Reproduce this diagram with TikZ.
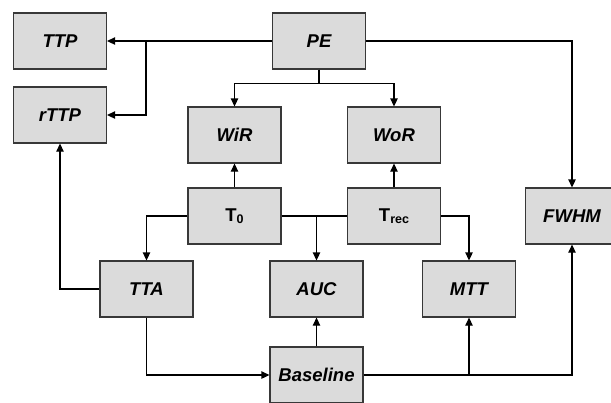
\documentclass[tikz,border=0pt]{standalone}
\usepackage{fontspec}
\newfontfamily\boxfont{Liberation Sans}
\usetikzlibrary{arrows.meta, positioning}

\begin{document}
\begin{tikzpicture}[x=1pt, y=-1pt, line join=miter,
    box/.style={draw=black!78, fill=black!14, line width=1.3pt, minimum width=93pt, minimum height=56pt, inner sep=0pt,
        font=\boxfont\bfseries\itshape\fontsize{18.5}{20}\selectfont},
    tbox/.style={box, font=\boxfont\bfseries\fontsize{18.5}{20}\selectfont},
    arr/.style={line width=1.3pt, -{Triangle[length=8pt, width=7.5pt]}},
    ln/.style={line width=1.3pt}]
    \useasboundingbox (0,0) rectangle (611,402);
    \clip (0,0) rectangle (611,402);

    \node[box] (TTP) at (60,41) {TTP};
    \node[box] (rTTP) at (60,115) {rTTP};
    \node[box] (PE) at (319,41) {PE};
    \node[box] (WiR) at (234.5,135) {WiR};
    \node[box] (WoR) at (394,135) {WoR};
    \node[tbox] (T0) at (234.5,216) {T\raisebox{-1.5pt}{\fontsize{12.5}{12}\selectfont 0}};
    \node[tbox] (Trec) at (394,216) {T\raisebox{-1.5pt}{\fontsize{12.5}{12}\selectfont rec}};
    \node[box] (FWHM) at (572,216) {FWHM};
    \node[box] (TTA) at (146.5,289) {TTA};
    \node[box] (AUC) at (316.5,289) {AUC};
    \node[box] (MTT) at (469,289) {MTT};
    \node[box] (Base) at (316.5,375) {Baseline};

    % PE outputs
    \draw[arr] (PE.west) -- (TTP.east);
    \coordinate (pj) at (146,41);
    \draw[arr] (pj) |- (rTTP.east);
    \draw[arr] (PE.south) -- ++(0,14) -| (WiR.north);
    \draw[arr] (PE.south) -- ++(0,14) -| (WoR.north);
    \draw[arr] (PE.east) -| (FWHM.north);

    % T0 and Trec
    \draw[arr] (T0.north) -- (WiR.south);
    \draw[arr] (Trec.north) -- (WoR.south);
    \draw[arr] (T0.west) -| (TTA.north);
    \draw[ln] (T0.east) -- (Trec.west);
    \draw[arr] (AUC.north |- T0.east) -- (AUC.north);
    \draw[arr] (Trec.east) -| (MTT.north);

    % TTA and Baseline
    \draw[arr] (TTA.west) -| (rTTP.south);
    \draw[arr] (TTA.south) |- (Base.west);
    \draw[arr] (Base.north) -- (AUC.south);
    \draw[arr] (Base.east) -| (FWHM.south);
    \draw[arr] (MTT.south |- Base.east) -- (MTT.south);
\end{tikzpicture}
\end{document}
